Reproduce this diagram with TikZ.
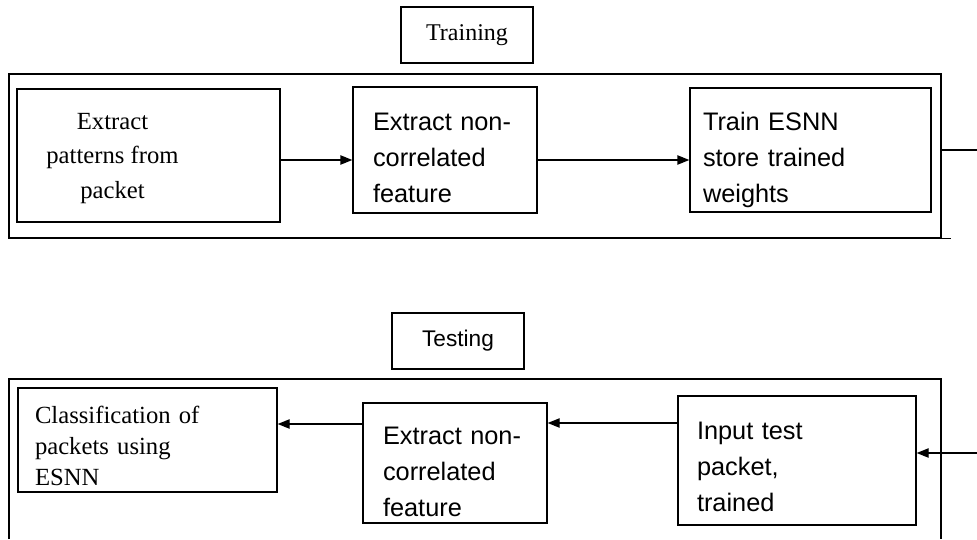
\documentclass[tikz,border=0pt]{standalone}
\usepackage{fontspec}
\setmainfont{Liberation Serif}
\setsansfont{Liberation Sans}
\usetikzlibrary{arrows.meta, positioning}

% extra height on a first line, to sit the text lower in its box
\newcommand{\topgap}[1]{\rule{0pt}{#1}}

\begin{document}
\begin{tikzpicture}[
  x=0.75pt, y=-0.75pt,
  wh/.style 2 args={minimum width=#1*0.75pt, minimum height=#2*0.75pt},
  pad/.style 2 args={inner xsep=#2*0.75pt, inner ysep=0pt, text width=(#1-2*#2)*0.75pt},
  box/.style={rectangle, draw=black, line width=1pt},
  seriftext/.style={inner sep=0pt, align=center,
                    font=\fontsize{18.5}{26}\selectfont},
  sansbox/.style={box, align=left,
                  font=\sffamily\fontsize{19}{27}\selectfont},
  tag/.style={box, inner sep=0pt},
  frame/.style={draw=black, line width=1pt},
  >={Triangle[length=9pt, width=7pt]},
  every path/.style={line width=1pt}
]
\useasboundingbox (0,0) rectangle (977,539);

% ── Training ──
\node[tag, wh={132}{56}, font=\fontsize{18}{20}\selectfont] (traintag) at (467,35) {Training};
\node[frame, wh={932}{164}] (trainframe) at (475,156) {};
\draw[frame] (trainframe.south east) -- ++(9,0);

\node[box, wh={263}{133}] (extractpat) at (148.5,155.5) {};
\node[seriftext] (extractpattext) at ([shift={(-36,3)}]extractpat.center)
  {Extract\\patterns from\\packet};
\node[sansbox, wh={184}{126}, pad={184}{20}] (extractfeat) at (445,150)
  {\topgap{25pt}Extract non-\\correlated\\feature};
\node[sansbox, wh={241}{124}, pad={241}{13}] (trainesnn) at (810.5,150)
  {\topgap{28pt}Train ESNN\\store trained\\weights};

\draw[->] (extractpat.east |- 0,160) -- (extractfeat.west |- 0,160);
\draw[->] (extractfeat.east |- 0,160) -- (trainesnn.west |- 0,160);
\coordinate (trainout) at (977,150);
\draw (trainframe.east |- trainout) -- (trainout);

% ── Testing ──
\node[tag, wh={132}{56}, font=\sffamily\fontsize{17}{19}\selectfont] (testtag) at (458,341) {Testing};
\draw[frame] (9,539) -- (9,379) -- (941,379) -- (941,539);

\node[box, wh={259}{104}, pad={259}{17}, align=left,
      font=\fontsize{18.5}{23}\selectfont] (classify) at (147.5,440)
  {\topgap{22pt}Classification of\\packets using\\ESNN};
\node[sansbox, wh={184}{120}, pad={184}{20}] (extractfeat2) at (455,463)
  {\topgap{27pt}Extract non-\\correlated\\feature};
\node[sansbox, wh={238}{129}, pad={238}{19}] (inputtest) at (797,460.5)
  {\topgap{23pt}Input test\\packet,\\trained};

\draw[->] (extractfeat2.west |- 0,424) -- (classify.east |- 0,424);
\draw[->] (inputtest.west |- 0,423) -- (extractfeat2.east |- 0,423);
\coordinate (testin) at (977,453);
\draw[->] (testin) -- (inputtest.east |- testin);

\end{tikzpicture}
\end{document}
